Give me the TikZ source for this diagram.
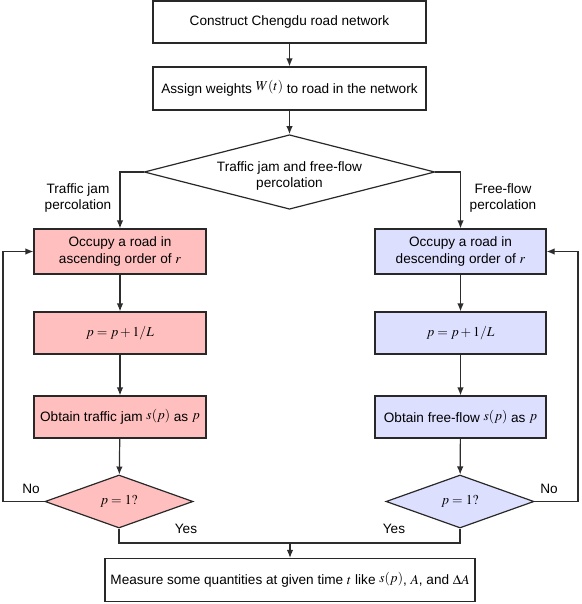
\documentclass[tikz,border=0pt]{standalone}
\usepackage{mathptmx}
\usepackage[no-math]{fontspec}
\setmainfont{Liberation Sans}
\usetikzlibrary{arrows.meta, shapes.geometric}
\definecolor{jamfill}{RGB}{255,191,191}
\definecolor{flowfill}{RGB}{221,223,255}
\definecolor{edgegray}{RGB}{40,40,40}
\definecolor{linkgray}{RGB}{45,45,45}
\newcommand{\chartfont}{\fontsize{13.6}{16.5}\selectfont}
\newcommand{\rsd}[1]{\raisebox{2.5pt}{$#1$}}
\tikzset{
    stepbox/.style={rectangle, draw=edgegray, line width=1.2pt, fill=white,
        align=center, inner sep=0pt, font=\chartfont},
    jambox/.style={stepbox, fill=jamfill, minimum width=172pt},
    flowbox/.style={stepbox, fill=flowfill, minimum width=171pt},
    choice/.style={diamond, draw=edgegray, line width=1.2pt, fill=white,
        align=center, inner sep=0pt, font=\chartfont},
    arr/.style={-{Latex[length=8pt, width=6.5pt]}, line width=1.2pt, draw=linkgray},
    link/.style={line width=1.2pt, draw=linkgray},
    lbl/.style={font=\chartfont, align=center, inner sep=1pt}
}

\begin{document}
\begin{tikzpicture}[x=1pt, y=-1pt]
%% LAYOUT (pixels, y downwards):
%% centre column x=289.5, jam column x=120, flow column x=460.5
\useasboundingbox (0,0) rectangle (581,604);

\node[stepbox, minimum width=273pt, minimum height=42pt] (build)  at (289.5, 22)
    {Construct Chengdu road network};
\node[stepbox, minimum width=273pt, minimum height=43pt] (assign) at (289.5, 88.5)
    {Assign weights \rsd{W(t)} to road in the network};
\node[choice, aspect=3.9, minimum width=287pt, minimum height=74pt] (split) at (289.5, 172)
    {\rule{0pt}{18pt}Traffic jam and free-flow\\percolation};

\node[jambox, minimum height=45pt] (jamA) at (120, 251.5) {Occupy a road in\\ascending order of $r$};
\node[jambox, minimum height=42pt] (jamB) at (120, 333)   {$p = p + 1/L$};
\node[jambox, minimum height=42pt] (jamC) at (120, 417)   {Obtain traffic jam \rsd{s(p)} as \rsd{p}};
\node[choice, fill=jamfill, aspect=2.8, minimum width=148pt, minimum height=53pt]
    (jamD) at (119, 501.5) {$p = 1?$};

\node[flowbox, minimum height=45pt] (flowA) at (460.5, 251.5) {Occupy a road in\\descending order of $r$};
\node[flowbox, minimum height=42pt] (flowB) at (460.5, 333)   {$p = p + 1/L$};
\node[flowbox, minimum height=42pt] (flowC) at (460.5, 417)   {Obtain free-flow \rsd{s(p)} as \rsd{p}};
\node[choice, fill=flowfill, aspect=2.8, minimum width=148pt, minimum height=53pt]
    (flowD) at (460, 501.5) {$p = 1?$};

\node[stepbox, minimum width=370pt, minimum height=43pt] (measure) at (290, 580)
    {Measure some quantities at given time $t$ like \rsd{s(p)}, $A$, and $\Delta A$};

%% ── LABELS ──────────────────────────────────────────────────────
\node[lbl] (jamlbl)  at (78, 198)  {Traffic jam\\percolation};
\node[lbl] (flowlbl) at (503, 198) {Free-flow\\percolation};
\node[lbl] (nol)  at (31, 489)  {No};
\node[lbl] (nor)  at (549, 489) {No};
\node[lbl] (yesl) at (186, 529) {Yes};
\node[lbl] (yesr) at (394, 529) {Yes};

\coordinate (loopL) at (3, 0);
\coordinate (loopR) at (578, 0);
\coordinate (merge) at (290, 543);

%% ── TOP ─────────────────────────────────────────────────────────
\draw[arr] (build) -- (assign);
\draw[arr] (assign) -- (split);
\draw[arr] (split.west) -| (jamA.north);
\draw[arr] (split.east) -| (flowA.north);

%% ── COLUMNS ─────────────────────────────────────────────────────
\draw[arr] (jamA) -- (jamB);
\draw[arr] (jamB) -- (jamC);
\draw[arr] (jamC) -- (jamD);
\draw[arr] (flowA) -- (flowB);
\draw[arr] (flowB) -- (flowC);
\draw[arr] (flowC) -- (flowD);

%% No: back to the top of each column
\draw[arr] (jamD.west) -- (jamD.west -| loopL) |- (jamA.west);
\draw[arr] (flowD.east) -- (flowD.east -| loopR) |- (flowA.east);

%% Yes: join and go down
\draw[link] (jamD.south) |- (merge);
\draw[link] (flowD.south) |- (merge);
\draw[arr] (merge) -- (measure.north);

\end{tikzpicture}
\end{document}
